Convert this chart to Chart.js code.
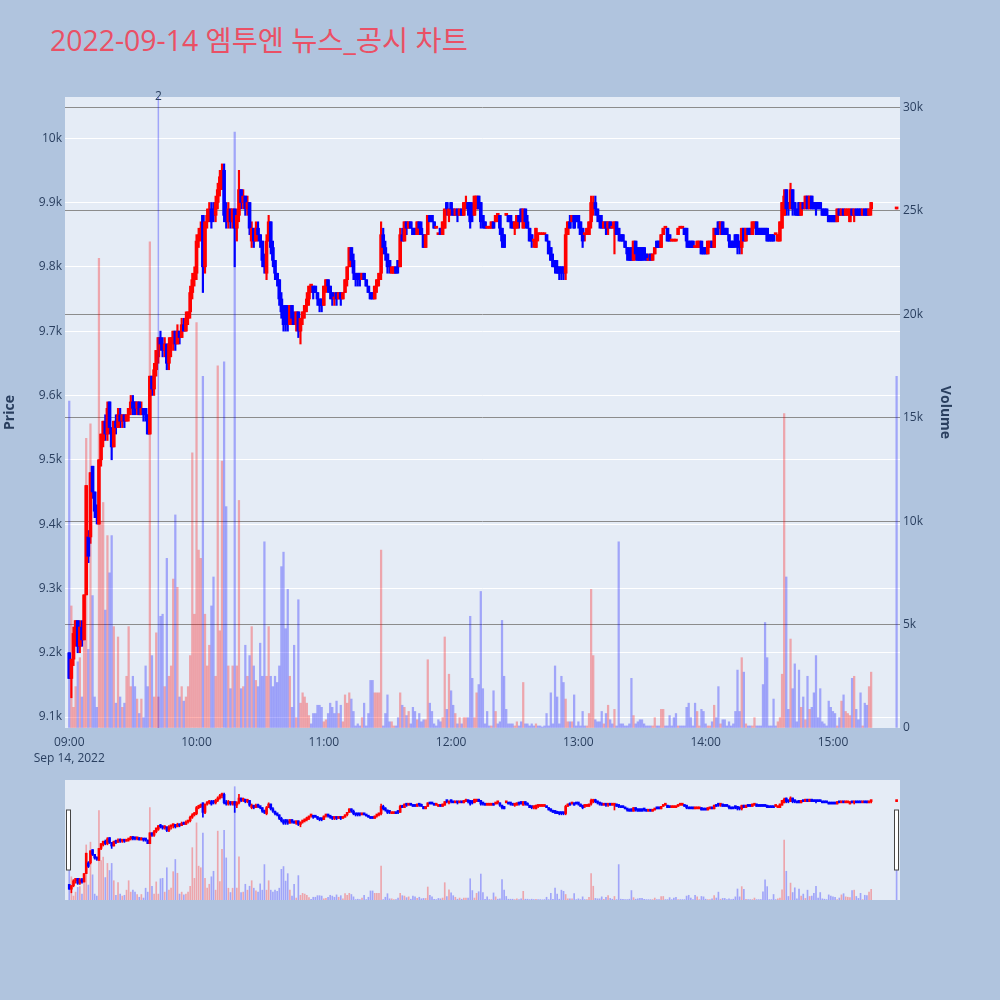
<!DOCTYPE html>
<html>
<head>
<meta charset="utf-8">
<script src="https://cdn.jsdelivr.net/npm/chart.js@4.4.1/dist/chart.umd.min.js"></script>
<style>
  body { margin: 0; width: 1000px; height: 1000px; background: #b0c4de; position: relative; overflow: hidden;
         font-family: 'Open Sans', 'Noto Sans CJK KR', sans-serif; }
  #title { position: absolute; left: 50px; top: 26px; font-size: 28.4px; line-height: 28px; color: #ea5065; white-space: nowrap; }
  #mainChart { position: absolute; left: 0; top: 0; }
  #sliderBox { position: absolute; left: 65px; top: 780px; width: 835px; height: 120px; background: #e5ecf6; }
  #sliderChart { position: absolute; left: 0; top: 0; }
</style>
</head>
<body>
<div id="title">2022-09-14 엠투엔 뉴스_공시 차트</div>
<canvas id="mainChart" width="1000" height="770"></canvas>
<div id="sliderBox"><canvas id="sliderChart" width="835" height="120"></canvas></div>
<script>
// minutes after 09:00 (09:00 .. 15:18 every minute, then the 15:30 closing print)
const times = [...Array(379).keys(), 390];

const opens = [
  9200,9160,9190,9230,9250,9210,9240,9220,9290,9380,
  9380,9490,9450,9420,9400,9500,9530,9560,9540,9590,
  9550,9520,9560,9550,9570,9560,9570,9560,9570,9580,
  9590,9590,9580,9590,9570,9580,9580,9570,9540,9630,
  9610,9640,9660,9690,9680,9670,9680,9650,9680,9690,
  9700,9680,9700,9690,9710,9700,9720,9730,9760,9780,
  9790,9840,9850,9880,9800,9870,9880,9890,9890,9880,
  9900,9920,9940,9950,9880,9870,9890,9870,9890,9860,
  9880,9920,9900,9910,9890,9900,9840,9860,9840,9860,
  9850,9840,9810,9790,9840,9870,9830,9810,9790,9780,
  9750,9730,9740,9720,9710,9740,9720,9710,9730,9700,
  9720,9730,9740,9750,9770,9770,9770,9760,9750,9750,
  9740,9770,9780,9770,9760,9750,9760,9750,9760,9750,
  9760,9780,9800,9830,9810,9790,9790,9790,9780,9790,
  9780,9770,9760,9760,9750,9770,9780,9790,9850,9830,
  9820,9810,9790,9790,9800,9810,9800,9850,9840,9870,
  9860,9870,9860,9860,9850,9870,9860,9850,9830,9850,
  9880,9880,9870,9860,9850,9860,9850,9860,9900,9880,
  9900,9890,9880,9890,9880,9890,9880,9890,9900,9900,
  9890,9880,9890,9910,9900,9880,9870,9860,9860,9860,
  9870,9870,9880,9880,9860,9850,9880,9880,9880,9870,
  9860,9860,9880,9890,9860,9890,9870,9860,9850,9840,
  9830,9850,9850,9850,9850,9850,9840,9830,9810,9810,
  9800,9800,9800,9800,9790,9850,9870,9870,9880,9880,
  9880,9870,9860,9850,9850,9850,9870,9890,9900,9890,
  9880,9870,9860,9870,9860,9870,9860,9860,9870,9860,
  9850,9850,9840,9830,9820,9830,9810,9840,9830,9830,
  9830,9830,9820,9810,9820,9810,9820,9840,9840,9830,
  9850,9860,9860,9850,9840,9840,9840,9850,9860,9860,
  9860,9860,9840,9840,9840,9830,9830,9830,9840,9830,
  9830,9820,9830,9840,9830,9860,9870,9860,9870,9860,
  9860,9850,9840,9840,9850,9850,9840,9830,9860,9840,
  9860,9860,9850,9860,9870,9860,9860,9860,9860,9860,
  9850,9850,9850,9850,9840,9840,9860,9880,9920,9900,
  9890,9920,9900,9890,9900,9880,9900,9890,9910,9890,
  9910,9900,9900,9900,9900,9890,9890,9890,9880,9880,
  9880,9880,9870,9890,9880,9890,9880,9880,9870,9890,
  9880,9890,9890,9890,9880,9890,9890,9880,9890,
  9890
];

const highs = [
  9200,9190,9240,9250,9250,9250,9250,9290,9460,9390,
  9480,9490,9450,9430,9500,9540,9560,9570,9590,9590,
  9550,9560,9570,9580,9580,9570,9570,9570,9580,9600,
  9600,9590,9590,9590,9590,9580,9580,9570,9630,9630,
  9650,9670,9690,9700,9690,9690,9680,9690,9690,9700,
  9700,9710,9700,9720,9720,9730,9730,9770,9790,9800,
  9850,9860,9870,9880,9870,9890,9900,9900,9900,9910,
  9930,9950,9960,9960,9900,9900,9890,9890,9890,9890,
  9950,9920,9920,9910,9910,9900,9870,9860,9870,9870,
  9850,9840,9820,9850,9880,9870,9840,9810,9790,9780,
  9760,9740,9740,9740,9740,9740,9730,9730,9730,9720,
  9730,9740,9760,9770,9770,9770,9770,9760,9750,9750,
  9770,9780,9780,9770,9760,9760,9760,9760,9760,9760,
  9780,9800,9830,9830,9820,9790,9790,9790,9790,9790,
  9780,9770,9760,9760,9770,9780,9790,9870,9860,9840,
  9820,9810,9800,9800,9800,9810,9860,9860,9870,9870,
  9870,9870,9860,9860,9870,9870,9870,9850,9850,9880,
  9880,9880,9870,9860,9850,9860,9870,9890,9900,9890,
  9900,9890,9890,9890,9890,9890,9900,9910,9900,9900,
  9900,9910,9910,9910,9900,9880,9870,9860,9860,9870,
  9870,9880,9880,9880,9860,9850,9880,9880,9880,9870,
  9870,9880,9880,9890,9890,9890,9880,9860,9850,9840,
  9860,9850,9850,9850,9850,9850,9840,9830,9820,9810,
  9810,9800,9800,9800,9860,9870,9880,9880,9880,9880,
  9880,9870,9860,9850,9860,9870,9910,9910,9910,9890,
  9880,9880,9870,9870,9870,9870,9870,9870,9870,9860,
  9850,9850,9840,9830,9830,9830,9840,9840,9830,9830,
  9830,9830,9820,9820,9820,9820,9830,9840,9840,9850,
  9860,9860,9860,9850,9840,9840,9840,9860,9860,9860,
  9860,9860,9840,9840,9840,9830,9840,9840,9840,9830,
  9830,9840,9840,9840,9860,9860,9870,9870,9870,9860,
  9860,9850,9840,9840,9850,9850,9840,9860,9860,9860,
  9860,9860,9870,9870,9870,9860,9860,9860,9860,9860,
  9850,9850,9850,9850,9850,9870,9900,9920,9920,9900,
  9930,9920,9900,9890,9900,9900,9900,9910,9910,9910,
  9910,9900,9900,9900,9900,9890,9890,9890,9880,9880,
  9880,9880,9890,9890,9890,9890,9890,9890,9890,9890,
  9890,9890,9890,9890,9890,9890,9890,9890,9900,
  9890
];

const lows = [
  9160,9130,9180,9210,9200,9200,9210,9220,9290,9340,
  9370,9440,9410,9400,9400,9490,9520,9530,9530,9540,
  9500,9520,9540,9550,9550,9550,9550,9560,9560,9570,
  9570,9570,9570,9570,9570,9560,9560,9540,9540,9600,
  9600,9630,9650,9670,9660,9660,9640,9640,9660,9670,
  9670,9680,9680,9690,9700,9700,9710,9720,9750,9770,
  9780,9830,9840,9760,9790,9860,9870,9860,9870,9870,
  9890,9910,9920,9870,9860,9860,9860,9860,9800,9840,
  9870,9890,9890,9880,9880,9850,9830,9830,9840,9840,
  9830,9800,9790,9780,9840,9820,9800,9780,9770,9740,
  9720,9700,9700,9700,9710,9710,9710,9700,9690,9680,
  9710,9720,9730,9740,9760,9750,9760,9740,9730,9730,
  9740,9760,9760,9750,9740,9740,9740,9750,9740,9750,
  9760,9770,9800,9800,9780,9770,9770,9770,9780,9780,
  9770,9760,9750,9750,9750,9760,9770,9780,9820,9810,
  9790,9790,9790,9790,9790,9790,9800,9840,9840,9850,
  9860,9860,9850,9850,9850,9850,9850,9830,9830,9850,
  9870,9870,9860,9860,9850,9850,9850,9860,9880,9870,
  9880,9880,9880,9870,9880,9880,9880,9890,9880,9860,
  9870,9880,9890,9890,9860,9860,9860,9860,9860,9860,
  9860,9870,9870,9850,9830,9830,9880,9870,9860,9860,
  9850,9860,9860,9870,9860,9860,9860,9840,9830,9830,
  9830,9840,9850,9850,9850,9840,9820,9810,9800,9790,
  9790,9780,9780,9780,9780,9850,9860,9870,9860,9870,
  9860,9850,9830,9840,9850,9850,9860,9880,9880,9870,
  9860,9860,9860,9850,9850,9860,9860,9820,9850,9840,
  9840,9840,9830,9810,9810,9810,9810,9810,9810,9810,
  9810,9810,9810,9810,9810,9810,9820,9830,9830,9830,
  9850,9860,9840,9840,9840,9840,9840,9850,9860,9860,
  9850,9830,9830,9830,9830,9830,9830,9830,9820,9820,
  9820,9820,9830,9830,9830,9850,9850,9850,9850,9850,
  9850,9830,9830,9830,9830,9820,9820,9820,9840,9840,
  9850,9850,9850,9860,9850,9850,9850,9850,9850,9840,
  9840,9840,9840,9850,9840,9840,9860,9880,9880,9880,
  9890,9880,9880,9880,9880,9880,9890,9890,9890,9890,
  9890,9890,9880,9890,9890,9880,9880,9880,9870,9870,
  9870,9870,9870,9880,9880,9880,9880,9880,9870,9880,
  9870,9880,9880,9880,9880,9880,9880,9880,9880,
  9890
];

const closes = [
  9160,9190,9230,9250,9210,9240,9220,9290,9460,9350,
  9480,9450,9420,9410,9500,9540,9560,9540,9580,9550,
  9520,9560,9550,9570,9560,9570,9560,9570,9580,9590,
  9580,9580,9590,9570,9580,9570,9570,9540,9630,9610,
  9640,9670,9690,9680,9670,9680,9650,9680,9690,9700,
  9680,9700,9690,9710,9700,9720,9730,9760,9780,9790,
  9840,9850,9860,9800,9870,9880,9890,9870,9880,9900,
  9920,9940,9950,9880,9870,9890,9870,9890,9860,9880,
  9920,9900,9910,9890,9900,9860,9860,9840,9860,9850,
  9840,9810,9800,9840,9870,9830,9810,9790,9780,9750,
  9730,9710,9720,9710,9740,9720,9710,9730,9700,9720,
  9730,9740,9750,9770,9770,9760,9760,9750,9740,9740,
  9770,9780,9770,9760,9750,9750,9750,9760,9750,9760,
  9780,9800,9830,9810,9790,9780,9780,9780,9790,9780,
  9770,9760,9750,9750,9770,9780,9790,9850,9830,9820,
  9800,9800,9800,9800,9790,9800,9850,9840,9870,9860,
  9870,9860,9850,9850,9870,9860,9850,9830,9850,9880,
  9870,9870,9860,9860,9850,9850,9870,9890,9890,9890,
  9890,9880,9890,9880,9890,9880,9900,9900,9890,9870,
  9880,9910,9910,9890,9870,9870,9860,9860,9860,9870,
  9860,9880,9880,9860,9840,9830,9880,9870,9870,9860,
  9870,9880,9870,9870,9890,9870,9860,9840,9840,9840,
  9860,9850,9850,9850,9850,9840,9820,9810,9800,9800,
  9790,9790,9790,9790,9850,9870,9860,9880,9860,9870,
  9870,9850,9840,9850,9860,9870,9900,9900,9890,9880,
  9870,9860,9870,9860,9870,9860,9860,9870,9850,9850,
  9840,9840,9830,9820,9810,9810,9840,9820,9810,9810,
  9810,9820,9810,9810,9810,9820,9830,9830,9830,9850,
  9860,9860,9840,9840,9840,9840,9840,9860,9860,9860,
  9850,9840,9830,9830,9830,9830,9840,9840,9820,9820,
  9820,9840,9840,9830,9860,9850,9860,9870,9850,9850,
  9850,9840,9830,9830,9840,9830,9830,9860,9840,9860,
  9850,9850,9870,9870,9850,9850,9850,9850,9850,9840,
  9840,9840,9840,9850,9850,9870,9900,9910,9890,9890,
  9920,9890,9890,9880,9880,9900,9890,9910,9890,9910,
  9890,9890,9890,9890,9890,9880,9880,9880,9870,9870,
  9870,9870,9890,9880,9890,9880,9890,9890,9890,9880,
  9890,9880,9880,9880,9890,9880,9880,9890,9900,
  9890
];

const volumes = [
  15800,5900,1000,2000,3200,3400,1500,5900,14000,3800,
  14700,6400,1500,1000,22700,10000,10900,5700,9300,7500,
  9300,4900,1200,4400,1500,1000,1200,2500,4900,2000,
  2500,2000,1400,700,1400,500,3000,2000,23500,3500,
  1500,4600,1500,5400,5500,2000,8200,2500,3000,7200,
  10300,6800,1500,2000,1300,1500,2000,3500,13300,5500,
  19600,8600,8200,17000,5500,3000,4000,5900,7300,2500,
  17500,4700,12900,17700,10700,3000,1900,3000,28800,3000,
  11000,1900,2000,4000,2500,3500,4900,3000,2300,2000,
  4100,2500,9000,2500,4900,2500,2000,2500,2200,3000,
  7800,8500,4800,6700,2500,1000,4000,500,6200,1200,
  1700,1500,1200,600,200,700,700,1100,1100,1000,
  300,400,700,1200,1000,700,1300,700,1100,300,
  1600,1200,1700,1400,800,100,200,100,500,1200,
  100,700,2300,2300,1700,1700,1700,8600,100,700,
  1600,300,300,100,100,500,1700,1100,1000,600,
  800,200,1000,800,400,700,300,400,400,3300,
  1200,800,200,100,400,300,500,4400,900,2600,
  1800,1100,700,200,500,200,500,500,500,5400,
  2400,500,1700,2100,6600,1900,200,800,100,100,
  1800,800,200,300,5200,2500,900,200,200,200,
  100,300,100,300,2200,200,200,100,200,100,
  200,100,100,50,100,700,100,1700,200,3000,
  1500,200,2500,2200,1400,300,300,300,1600,100,
  300,100,800,100,100,700,6700,3500,400,300,
  300,800,200,700,1100,400,200,900,100,9000,
  200,200,100,100,200,2400,600,200,300,400,
  400,200,100,100,100,100,500,100,100,900,
  900,100,100,600,100,500,700,100,100,100,
  100,1000,1200,500,100,1200,800,100,900,800,
  200,100,100,300,1100,500,2000,200,400,400,
  100,300,100,200,800,2800,800,3400,2700,200,
  100,100,100,500,100,100,100,2100,5100,3400,
  100,100,1400,100,300,500,2600,15200,7300,900,
  4300,1900,3100,300,2800,1000,1500,400,2500,900,
  1000,1700,3500,500,1900,300,200,100,1300,1000,
  800,700,100,500,1300,1600,800,700,600,2400,
  2500,900,400,1700,100,1200,1100,2000,2700,
  17000
];

const tickMinutes = [0, 60, 120, 180, 240, 300, 360];
const tickLabels = ['09:00', '10:00', '11:00', '12:00', '13:00', '14:00', '15:00'];
const dateLabel = 'Sep 14, 2022';
const priceTicks = [9100, 9200, 9300, 9400, 9500, 9600, 9700, 9800, 9900, 10000];
const volumeTicks = [0, 5000, 10000, 15000, 20000, 25000, 30000];
const newsMinutes = [42];
const newsLabels = ['2'];

const TXT = '#2a3f5f';
const UP = '#ff0000', DOWN = '#0000ff';
const UP_VOL = 'rgba(255,0,0,0.3)', DOWN_VOL = 'rgba(0,0,255,0.3)';
const X_MIN = -2, X_MAX = 391.6;
const P_MIN = 9083, P_MAX = 10064;
const V_MAX = 30500;

const candleColors = times.map((t, i) => closes[i] >= opens[i] ? UP : DOWN);
const volColors = times.map((t, i) => closes[i] > opens[i] ? UP_VOL : DOWN_VOL);

function makeDatasets(volW, wickW, bodyW) {
  return [
    {
      label: 'Volume', yAxisID: 'y1', order: 3, grouped: false,
      data: times.map((t, i) => ({ x: t, y: volumes[i] })),
      backgroundColor: volColors, barThickness: volW
    },
    {
      label: 'wick', yAxisID: 'y', order: 2, grouped: false,
      data: times.map((t, i) => ({ x: t, y: [lows[i], highs[i]] })),
      backgroundColor: candleColors, barThickness: wickW, minBarLength: 1
    },
    {
      label: 'body', yAxisID: 'y', order: 1, grouped: false,
      data: times.map((t, i) => ({ x: t, y: [opens[i], closes[i]] })),
      backgroundColor: candleColors, barThickness: bodyW, minBarLength: 2
    }
  ];
}

const plotBg = {
  id: 'plotBg',
  beforeDraw(chart) {
    const a = chart.chartArea, ctx = chart.ctx;
    ctx.save();
    ctx.fillStyle = '#e5ecf6';
    ctx.fillRect(a.left, a.top, a.right - a.left, a.bottom - a.top);
    ctx.restore();
  }
};

const newsMarks = {
  id: 'newsMarks',
  afterDatasetsDraw(chart) {
    const a = chart.chartArea, ctx = chart.ctx, xs = chart.scales.x;
    ctx.save();
    newsMinutes.forEach((m, i) => {
      const px = xs.getPixelForValue(m);
      ctx.strokeStyle = 'rgba(0,0,255,0.3)';
      ctx.lineWidth = 1.5;
      ctx.beginPath();
      ctx.moveTo(px, a.top);
      ctx.lineTo(px, a.bottom);
      ctx.stroke();
      ctx.fillStyle = TXT;
      ctx.font = "12px 'Open Sans', sans-serif";
      ctx.textAlign = 'center';
      ctx.textBaseline = 'middle';
      ctx.fillText(newsLabels[i], px, a.top);
    });
    ctx.restore();
  }
};

Chart.defaults.font.family = "'Open Sans', 'Noto Sans CJK KR', sans-serif";
Chart.defaults.color = TXT;

new Chart(document.getElementById('mainChart'), {
  type: 'bar',
  data: { datasets: makeDatasets(1.6, 1.5, 3) },
  options: {
    responsive: false,
    animation: false,
    layout: { padding: { top: 97, right: 45, left: 0, bottom: 0 } },
    plugins: { legend: { display: false }, tooltip: { enabled: false } },
    scales: {
      x: {
        type: 'linear', min: X_MIN, max: X_MAX, offset: false,
        grid: { display: false, drawTicks: false }, border: { display: false },
        afterBuildTicks: s => { s.ticks = tickMinutes.map(v => ({ value: v })); },
        ticks: {
          autoSkip: false, maxRotation: 0, padding: 6, color: TXT,
          font: { size: 12, lineHeight: 1.35 },
          callback: v => {
            const i = tickMinutes.indexOf(v);
            return i === 0 ? [tickLabels[0], dateLabel] : tickLabels[i];
          }
        },
        afterFit: s => { s.height = 42; }
      },
      y: {
        position: 'left', min: P_MIN, max: P_MAX,
        grid: { color: '#ffffff', lineWidth: 1, drawTicks: false },
        border: { display: false },
        afterBuildTicks: s => { s.ticks = priceTicks.map(v => ({ value: v })); },
        ticks: { padding: 3, color: TXT, font: { size: 12 }, callback: v => (v / 1000) + 'k' },
        title: { display: true, text: 'Price', color: TXT, font: { size: 14, weight: 'bold' }, padding: { top: 2, bottom: 0 } },
        afterFit: s => { s.width = 65; }
      },
      y1: {
        position: 'right', min: 0, max: V_MAX,
        grid: { color: c => c.tick && c.tick.value === 0 ? 'rgba(0,0,0,0)' : '#8c8c8c', lineWidth: 1, drawTicks: false },
        border: { display: false },
        afterBuildTicks: s => { s.ticks = volumeTicks.map(v => ({ value: v })); },
        ticks: { padding: 3, color: TXT, font: { size: 12 }, callback: v => v === 0 ? '0' : (v / 1000) + 'k' },
        title: { display: true, text: 'Volume', color: TXT, font: { size: 14, weight: 'bold' }, padding: { top: 2, bottom: 0 } },
        afterFit: s => { s.width = 55; }
      }
    }
  },
  plugins: [plotBg, newsMarks]
});

const sliderHandles = {
  id: 'sliderHandles',
  afterDraw(chart) {
    const ctx = chart.ctx, w = chart.width;
    ctx.save();
    ctx.fillStyle = '#ffffff';
    ctx.strokeStyle = '#444444';
    ctx.lineWidth = 1;
    [[1.5, 30], [w - 5.5, 30]].forEach(([x, y]) => {
      ctx.fillRect(x, y, 4, 60);
      ctx.strokeRect(x, y, 4, 60);
    });
    ctx.restore();
  }
};

new Chart(document.getElementById('sliderChart'), {
  type: 'bar',
  data: { datasets: makeDatasets(1, 1, 2) },
  options: {
    responsive: false,
    animation: false,
    layout: { padding: 0 },
    plugins: { legend: { display: false }, tooltip: { enabled: false } },
    scales: {
      x: { type: 'linear', min: X_MIN, max: X_MAX, offset: false, display: false },
      y: { min: 9070, max: 10070, display: false },
      y1: { min: 0, max: V_MAX, display: false }
    }
  },
  plugins: [sliderHandles]
});
</script>
</body>
</html>
